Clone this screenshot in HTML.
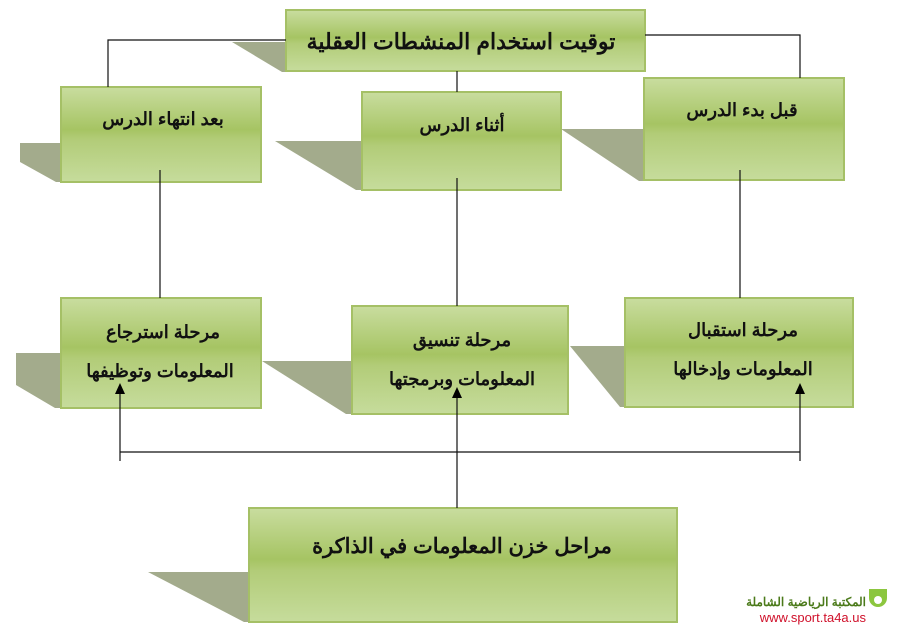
<!DOCTYPE html>
<html><head><meta charset="utf-8">
<style>
html,body{margin:0;padding:0;background:#fff;}
svg{display:block;}
text{font-family:"Liberation Sans","Noto Sans CJK SC",sans-serif;fill:#111;}
</style></head><body>
<svg width="899" height="636" viewBox="0 0 899 636" xmlns="http://www.w3.org/2000/svg">
<defs>
<linearGradient id="g" x1="0" y1="0" x2="0" y2="1">
<stop offset="0" stop-color="#c9dd9f"/>
<stop offset="0.45" stop-color="#a6c463"/>
<stop offset="0.55" stop-color="#b2cc78"/>
<stop offset="1" stop-color="#c6dc9c"/>
</linearGradient>
</defs>
<g fill="#a3ab8c">
<polygon points="232,42 286,42 286,72 282,72"/>
<polygon points="20,143 61,143 61,182 56,182 20,162"/>
<polygon points="275,141 362,141 362,190 356,190"/>
<polygon points="561,129 645,129 645,181 639,181"/>
<polygon points="16,353 61,353 61,408 55,408 16,385"/>
<polygon points="262,361 352,361 352,414 346,414"/>
<polygon points="570,346 625,346 625,407 620,407"/>
<polygon points="148,572 249,572 249,622 244,622"/>
</g>
<g fill="url(#g)" stroke="#a5c066" stroke-width="2">
<rect x="286" y="10" width="359" height="61"/>
<rect x="61" y="87" width="200" height="95"/>
<rect x="362" y="92" width="199" height="98"/>
<rect x="644" y="78" width="200" height="102"/>
<rect x="61" y="298" width="200" height="110"/>
<rect x="352" y="306" width="216" height="108"/>
<rect x="625" y="298" width="228" height="109"/>
<rect x="249" y="508" width="428" height="114"/>
</g>
<g stroke="#111" stroke-width="1.2" fill="none">
<polyline points="286,40 108,40 108,87"/>
<polyline points="645,35 800,35 800,78"/>
<line x1="457" y1="71" x2="457" y2="92"/>
<line x1="160" y1="170" x2="160" y2="298"/>
<line x1="457" y1="178" x2="457" y2="306"/>
<line x1="740" y1="170" x2="740" y2="298"/>
<line x1="120" y1="452" x2="800" y2="452"/>
<line x1="120" y1="461" x2="120" y2="392"/>
<line x1="800" y1="461" x2="800" y2="392"/>
<line x1="457" y1="508" x2="457" y2="396"/>
</g>
<g fill="#000">
<polygon points="120,383 115,394 125,394"/>
<polygon points="800,383 795,394 805,394"/>
<polygon points="457,387 452,398 462,398"/>
</g>
<g direction="rtl" text-anchor="middle">
<text x="461" y="49" font-size="22" font-weight="bold">توقيت استخدام المنشطات العقلية</text>
<text x="163" y="125" font-size="18" font-weight="bold">بعد انتهاء الدرس</text>
<text x="462" y="131" font-size="18" font-weight="bold">أثناء الدرس</text>
<text x="742" y="116" font-size="18" font-weight="bold">قبل بدء الدرس</text>
<text x="163" y="338" font-size="18" font-weight="bold">مرحلة استرجاع</text>
<text x="160" y="377" font-size="18" font-weight="bold">المعلومات وتوظيفها</text>
<text x="462" y="346" font-size="18" font-weight="bold">مرحلة تنسيق</text>
<text x="462" y="385" font-size="18" font-weight="bold">المعلومات وبرمجتها</text>
<text x="743" y="336" font-size="18" font-weight="bold">مرحلة استقبال</text>
<text x="743" y="375" font-size="18" font-weight="bold">المعلومات وإدخالها</text>
<text x="462" y="553" font-size="21" font-weight="bold">مراحل خزن المعلومات في الذاكرة</text>
</g>
<path d="M869,598 a9,9 0 1 0 18,0 l0,-9 l-18,0 z" fill="#8cc63f"/>
<circle cx="878" cy="600" r="4" fill="#fff"/>
<text x="866" y="606" font-size="12" font-weight="bold" text-anchor="start" direction="rtl" style="fill:#4b7a1a">المكتبة الرياضية الشاملة</text>
<text x="866" y="622" font-size="13" text-anchor="end" style="fill:#d0112b">www.sport.ta4a.us</text>
</svg>
</body></html>
